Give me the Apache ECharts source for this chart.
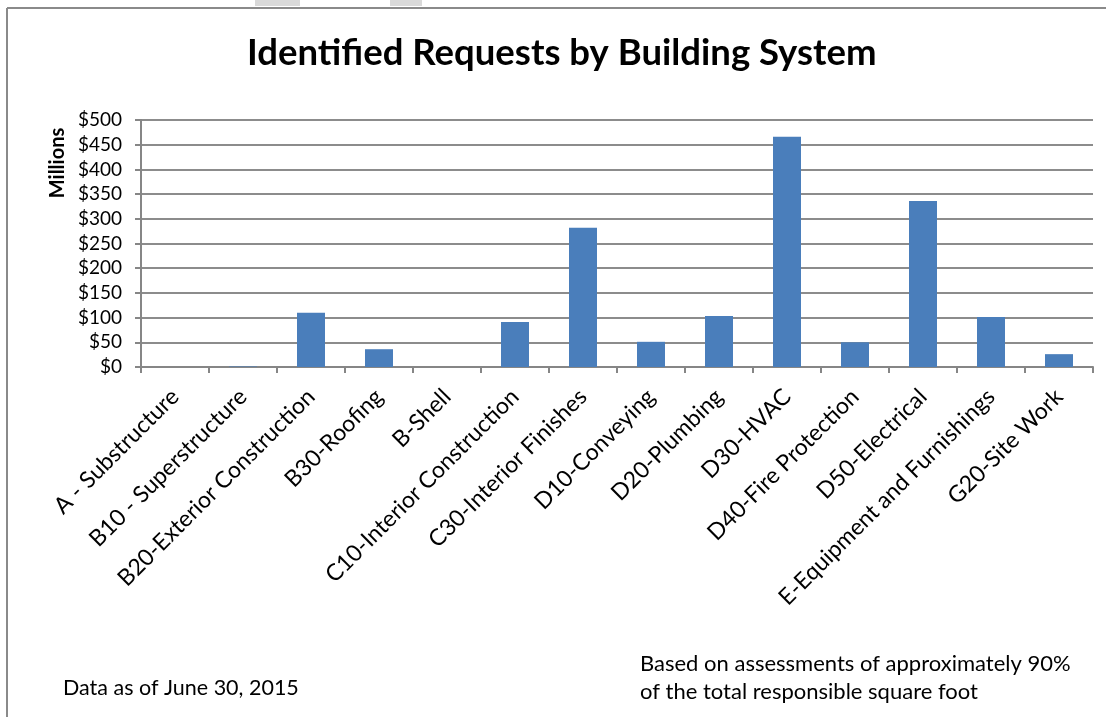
<!DOCTYPE html>
<html><head><meta charset="utf-8">
<script src="https://cdn.jsdelivr.net/npm/echarts@6/dist/echarts.min.js"></script>
<style>html,body{margin:0;padding:0;background:#fff}#c{width:1106px;height:717px}</style>
</head><body><div id="c"></div>
<script>
var categories = ["A - Substructure","B10 - Superstructure","B20-Exterior Construction","B30-Roofing","B-Shell","C10-Interior Construction","C30-Interior Finishes","D10-Conveying","D20-Plumbing","D30-HVAC","D40-Fire Protection","D50-Electrical","E-Equipment and Furnishings","G20-Site Work"];
var values = [0, 1, 110, 36, 0, 91, 282, 51, 103, 466, 50, 336, 101, 26];
var yTicks = [0, 50, 100, 150, 200, 250, 300, 350, 400, 450, 500];
var titleText = "Identified Requests by Building System";
var yName = "Millions";
var noteLeft = "Data as of June 30, 2015";
var noteRight = ["Based on assessments of approximately 90%", "of the total responsible square foot"];

var chart = echarts.init(document.getElementById('c'), null, {renderer:'canvas'});
var font = "Lato, 'Open Sans', sans-serif";
chart.setOption({
  animation:false,
  title:{text:titleText,left:242,top:30,textStyle:{fontFamily:font,fontSize:36.5,fontWeight:'bold',color:'#000'},itemGap:0},
  grid:{left:141,right:13,top:120,bottom:350,containLabel:false},
  xAxis:{type:'category',data:categories,
    axisLine:{lineStyle:{color:'#868686',width:2}},
    axisTick:{show:true,length:6,alignWithLabel:false,lineStyle:{color:'#868686',width:2}},
    axisLabel:{rotate:45,interval:0,fontFamily:font,fontSize:23,color:'#000',margin:26,verticalAlign:'middle'}
  },
  yAxis:{type:'value',min:yTicks[0],max:yTicks[yTicks.length-1],interval:50,
    axisLine:{show:true,lineStyle:{color:'#868686',width:2}},
    axisTick:{show:true,length:6,lineStyle:{color:'#868686',width:2}},
    splitLine:{lineStyle:{color:'#8c8c8c',width:1.8}},
    axisLabel:{formatter:function(v){return '$'+v;},fontFamily:font,fontSize:19,color:'#000',margin:19}
  },
  series:[{type:'bar',data:values,barWidth:28,itemStyle:{color:'#4a7ebb'}}],
  graphic:[
    {type:'line',shape:{x1:7,y1:8,x2:1106,y2:8},style:{stroke:'#8a8a8a',lineWidth:2}},
    {type:'line',shape:{x1:7,y1:8,x2:7,y2:717},style:{stroke:'#8a8a8a',lineWidth:2}},
    {type:'rect',shape:{x:255,y:0,width:45,height:6},style:{fill:'#d9d9d9'}},
    {type:'rect',shape:{x:390,y:0,width:32,height:6},style:{fill:'#d9d9d9'}},
    {type:'text',x:58,y:163,rotation:Math.PI/2,style:{text:yName,font:"bold 20px "+font,fill:'#000',align:'center',verticalAlign:'middle'}},
    {type:'text',left:63,top:677,style:{text:noteLeft,font:"21.5px "+font,fill:'#000'}},
    {type:'text',left:640,top:650,style:{text:noteRight.join('\n'),font:"22px "+font,fill:'#000',lineHeight:28}}
  ]
});
</script></body></html>
